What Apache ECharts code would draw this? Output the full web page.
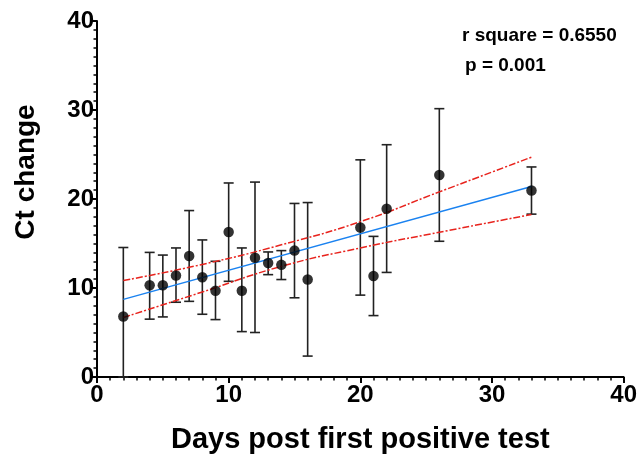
<!DOCTYPE html>
<html><head><meta charset="utf-8">
<script src="https://cdn.jsdelivr.net/npm/echarts@6/dist/echarts.min.js"></script>
<style>html,body{margin:0;padding:0;background:#fff}#c{width:640px;height:459px}</style>
</head><body><div id="c"></div>
<script>
var days   = [2, 4, 5, 6, 7, 8, 9, 10, 11, 12, 13, 14, 15, 16, 20, 21, 22, 26, 33];
var ctMean = [6.8, 10.3, 10.3, 11.4, 13.6, 11.2, 9.7, 16.3, 9.7, 13.4, 12.8, 12.6, 14.2, 10.95, 16.8, 11.35, 18.9, 22.7, 20.95];
var ctHigh = [14.55, 14.0, 13.7, 14.5, 18.7, 15.4, 13.0, 21.8, 14.5, 21.9, 14.05, 14.2, 19.5, 19.6, 24.4, 15.8, 26.1, 30.15, 23.6];
var ctLow  = [0, 6.5, 6.75, 8.4, 8.5, 7.05, 6.45, 10.75, 5.1, 5.0, 11.5, 10.95, 8.9, 2.35, 9.2, 6.9, 11.75, 15.25, 18.3];
var fitX   = [2, 33];
var fitY   = [8.72, 21.41];
var bandX  = [2, 8, 14, 20, 26, 33];
var bandUp = [10.84, 12.65, 14.85, 17.45, 20.8, 24.7];
var bandLo = [6.68, 9.55, 12.43, 14.5, 16.26, 18.26];
var xTicks = [0, 10, 20, 30, 40];
var yTicks = [0, 10, 20, 30, 40];
var statsText = ['r square = 0.6550', 'p = 0.001'];

var FONT = 'Liberation Sans';
var chart = echarts.init(document.getElementById('c'), null, {renderer: 'canvas'});
function zip(a, b) { return a.map(function (v, i) { return [v, b[i]]; }); }
var errData = days.map(function (d, i) { return [d, ctLow[i], ctHigh[i]]; });

var axisCommon = {
  min: 0, max: 40, interval: 10,
  axisLine: {show: true, onZero: false, lineStyle: {color: '#000', width: 2}},
  axisTick: {show: true, inside: false, length: 6, lineStyle: {color: '#000', width: 2}},
  minorTick: {show: true, splitNumber: 10, length: 3.5, lineStyle: {color: '#000', width: 1.5}},
  splitLine: {show: false},
  axisLabel: {color: '#000', fontFamily: FONT, fontWeight: 'bold', fontSize: 24}
};

chart.setOption({
  animation: false,
  backgroundColor: '#fff',
  grid: {left: 97, right: 14, top: 21, bottom: 79, containLabel: false},
  xAxis: Object.assign({}, axisCommon, {
    type: 'value',
    axisLabel: Object.assign({}, axisCommon.axisLabel, {margin: 6,
      formatter: function (v) { return xTicks.indexOf(v) >= 0 ? String(v) : ''; }}),
    name: 'Days post first positive test', nameLocation: 'middle', nameGap: 48,
    nameTextStyle: {color: '#000', fontFamily: FONT, fontWeight: 'bold', fontSize: 29}
  }),
  yAxis: Object.assign({}, axisCommon, {
    type: 'value',
    axisLabel: Object.assign({}, axisCommon.axisLabel, {margin: 3,
      formatter: function (v) { return yTicks.indexOf(v) >= 0 ? String(v) : ''; }}),
    name: 'Ct change', nameLocation: 'middle', nameGap: 57,
    nameTextStyle: {color: '#000', fontFamily: FONT, fontWeight: 'bold', fontSize: 28, padding: [0, 0, 0, 54]}
  }),
  graphic: [
    {type: 'text', left: 462, top: 26, style: {text: statsText[0], fill: '#000', font: 'bold 19px "Liberation Sans"'}},
    {type: 'text', left: 465, top: 56, style: {text: statsText[1], fill: '#000', font: 'bold 19px "Liberation Sans"'}}
  ],
  series: [
    {
      type: 'custom', z: 2,
      renderItem: function (params, api) {
        var x = api.value(0);
        var lo = api.coord([x, api.value(1)]);
        var hi = api.coord([x, api.value(2)]);
        var w = 5;
        var st = {stroke: '#222', lineWidth: 1.6};
        return {type: 'group', children: [
          {type: 'line', shape: {x1: lo[0], y1: lo[1], x2: hi[0], y2: hi[1]}, style: st},
          {type: 'line', shape: {x1: hi[0] - w, y1: hi[1], x2: hi[0] + w, y2: hi[1]}, style: st},
          {type: 'line', shape: {x1: lo[0] - w, y1: lo[1], x2: lo[0] + w, y2: lo[1]}, style: st}
        ]};
      },
      data: errData, clip: false
    },
    {type: 'line', data: zip(fitX, fitY), symbol: 'none', z: 3,
      lineStyle: {color: '#1a82f0', width: 1.5}},
    {type: 'line', data: zip(bandX, bandUp), symbol: 'none', smooth: true, z: 3,
      lineStyle: {color: '#e8231d', width: 1.5, type: [7, 2, 2, 2]}},
    {type: 'line', data: zip(bandX, bandLo), symbol: 'none', smooth: true, z: 3,
      lineStyle: {color: '#e8231d', width: 1.5, type: [7, 2, 2, 2]}},
    {type: 'scatter', data: zip(days, ctMean), symbol: 'circle', symbolSize: 10.5, z: 5,
      itemStyle: {color: '#000'}}
  ]
});
</script></body></html>
